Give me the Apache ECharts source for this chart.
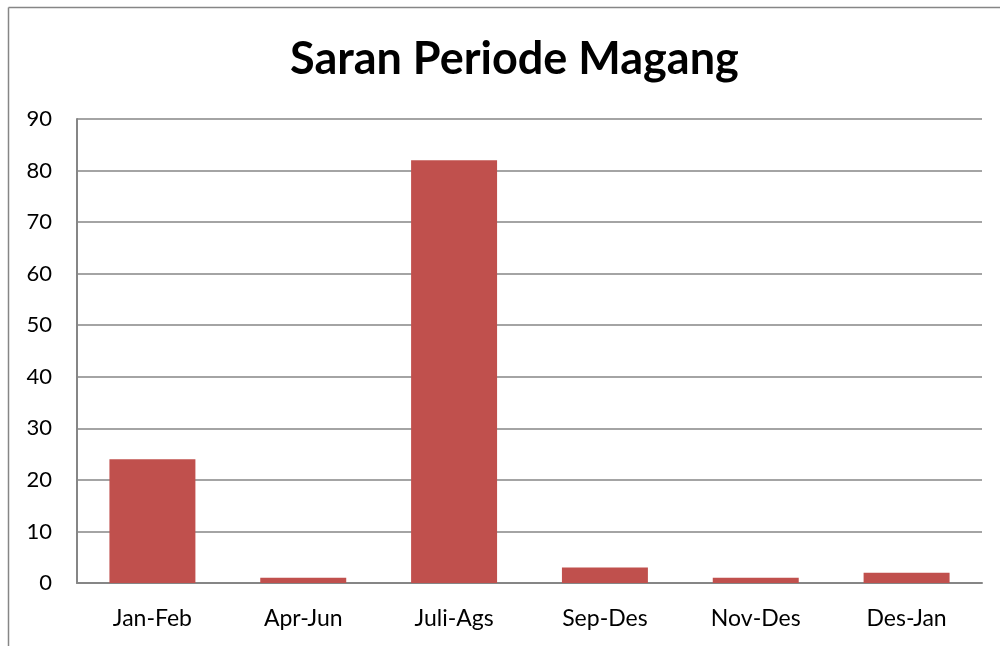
<!DOCTYPE html>
<html><head><meta charset="utf-8">
<script src="https://cdn.jsdelivr.net/npm/echarts@6/dist/echarts.min.js"></script>
<style>html,body{margin:0;padding:0;background:#fff}#c{width:1000px;height:646px}</style>
</head><body><div id="c"></div>
<script>
const categories = ['Jan-Feb','Apr-Jun','Juli-Ags','Sep-Des','Nov-Des','Des-Jan'];
const values = [24, 1, 82, 3, 1, 2];
const titleText = 'Saran Periode Magang';

const chart = echarts.init(document.getElementById('c'), null, {renderer:'canvas'});
chart.setOption({
  animation: false,
  backgroundColor: '#fff',
  title: {
    text: titleText, left: 285, top: 32,
    textStyle: {fontFamily: 'Lato', fontWeight: 'bold', fontSize: 45, color: '#000'}
  },
  graphic: [
    {type:'line', shape:{x1:8.5,y1:7.5,x2:1000,y2:7.5}, style:{stroke:'#868686', lineWidth:1.5}},
    {type:'line', shape:{x1:8.5,y1:7.5,x2:8.5,y2:646}, style:{stroke:'#868686', lineWidth:1.5}}
  ],
  grid: {left: 77, right: 18, top: 119, bottom: 63, containLabel: false},
  xAxis: {
    type: 'category', data: categories,
    axisLine: {show: true, lineStyle: {color: '#868686', width: 2}},
    axisTick: {show: false},
    axisLabel: {fontFamily: 'Lato', fontSize: 23, color: '#000', margin: 24}
  },
  yAxis: {
    type: 'value', min: 0, max: 90, interval: 10,
    axisLine: {show: true, lineStyle: {color: '#868686', width: 2}},
    axisTick: {show: false},
    splitLine: {lineStyle: {color: '#868686', width: 1.5}},
    axisLabel: {fontFamily: 'Lato', fontSize: 22, color: '#000', margin: 25}
  },
  series: [{
    type: 'bar', data: values, barWidth: '57%',
    itemStyle: {color: '#C0504D'}
  }]
});
</script></body></html>
